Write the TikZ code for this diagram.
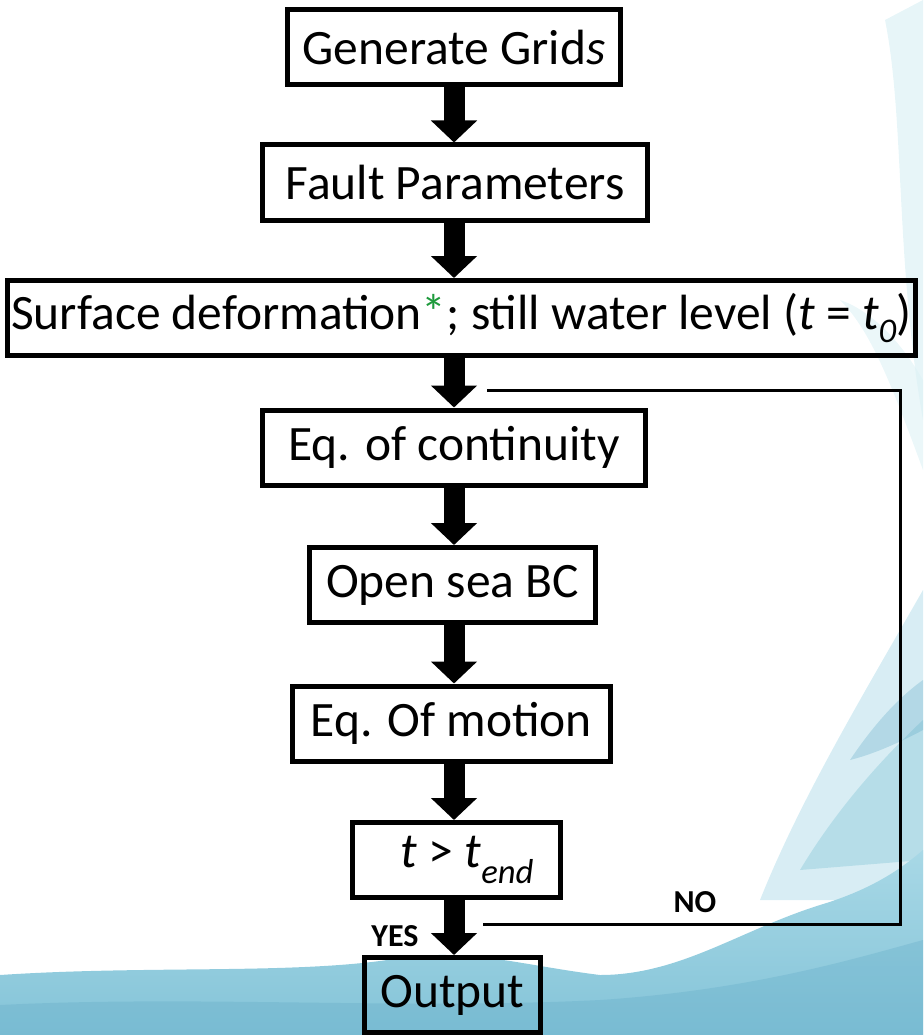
\documentclass[tikz,border=0pt]{standalone}
\usepackage{fontspec}
\setmainfont{Carlito}
\usetikzlibrary{arrows.meta}
\definecolor{waveL}{HTML}{DDF1F5}
\definecolor{waveM}{HTML}{A8D8E6}
\definecolor{waveB}{HTML}{84C4D8}
\definecolor{waveD}{HTML}{5FA9C6}
\definecolor{astgreen}{HTML}{1E9A3C}
\tikzset{
  stepbox/.style={draw=black, line width=5pt, rectangle, inner sep=0pt,
    minimum height=75pt, font=\fontsize{49.5}{59}\selectfont},
  flow/.style={line width=21pt, -{Triangle[length=22pt,width=45pt]}},
  loopline/.style={line width=3pt},
  lbl/.style={font=\fontsize{32}{38}\selectfont\bfseries, inner sep=0pt}
}
\begin{document}
\begin{tikzpicture}[x=1pt,y=-1pt]
\useasboundingbox (0,0) rectangle (923,1035);
% background wave (decoration)
\fill[waveL, opacity=0.7] (885,20) .. controls (905,120) and (895,260) .. (923,420) -- (923,0) -- cycle;
\fill[waveL, opacity=0.6] (840,300) .. controls (870,330) and (890,380) .. (923,470) -- (923,380) .. controls (900,340) and (870,310) .. (840,300) -- cycle;
\fill[waveM, opacity=0.45] (760,900) .. controls (800,800) and (860,700) .. (923,590) -- (923,900) -- cycle;
\fill[waveB, opacity=0.4] (800,870) .. controls (830,820) and (870,770) .. (923,720) -- (923,860) -- cycle;
\fill[waveD, opacity=0.3] (850,760) .. controls (870,730) and (895,700) .. (923,680) -- (923,730) .. controls (895,745) and (870,755) .. (850,760) -- cycle;
\shade[top color=waveM, bottom color=waveB]
  (0,975) .. controls (150,965) and (300,975) .. (400,958)
  .. controls (470,948) and (520,965) .. (600,975)
  .. controls (680,975) and (740,930) .. (820,905)
  .. controls (870,890) and (900,870) .. (923,850)
  -- (923,1035) -- (0,1035) -- cycle;
\fill[waveD, opacity=0.3] (0,1005) .. controls (200,995) and (400,1010) .. (600,1000) .. controls (750,990) and (850,960) .. (923,940) -- (923,1035) -- (0,1035) -- cycle;
% axis of the flow
\coordinate (ax) at (454,0);
% boxes
\node[stepbox, minimum width=333pt] (b1) at (454,47.5) {Generate Grid\textit{s}};
\node[stepbox, minimum width=385pt] (b2) at (455,182.5) {Fault Parameters};
\node[stepbox, minimum width=908pt] (b3) at (461.5,318) {Surface deformation{\color{astgreen}*}; still water level (\textit{t} = \textit{t}\textsubscript{\itshape 0})};
\node[stepbox, minimum width=383pt] (b4) at (454,447.5) {Eq. of continuity};
\node[stepbox, minimum width=286pt] (b5) at (452.5,585) {Open sea BC};
\node[stepbox, minimum width=318pt] (b6) at (451.5,723.5) {Eq. Of motion};
\node[stepbox, minimum width=208pt] (b7) at (456.5,860) {\hspace*{22pt}\textit{t} > \textit{t}\textsubscript{\itshape end}};
\node[stepbox, minimum width=176pt] (b8) at (452.5,995) {Output};
% flow arrows
\draw[flow] (b1.south -| ax) -- (b2.north -| ax);
\draw[flow] (b2.south -| ax) -- (b3.north -| ax);
\draw[flow] (b3.south -| ax) -- (b4.north -| ax);
\draw[flow] (b4.south -| ax) -- (b5.north -| ax);
\draw[flow] (b5.south -| ax) -- (b6.north -| ax);
\draw[flow] (b6.south -| ax) -- (b7.north -| ax);
\draw[flow] (b7.south -| ax) -- (b8.north -| ax);
% loop back (NO)
\coordinate (lpS) at (483,924);
\coordinate (lpE) at (487,390);
\coordinate (lpR) at (900,0);
\draw[loopline] (lpS) -- (lpS -| lpR) -- (lpE -| lpR) -- (lpE);
% labels
\node[lbl] (yes) at (395,936) {YES};
\node[lbl] (no) at (695,902) {NO};
\end{tikzpicture}
\end{document}
